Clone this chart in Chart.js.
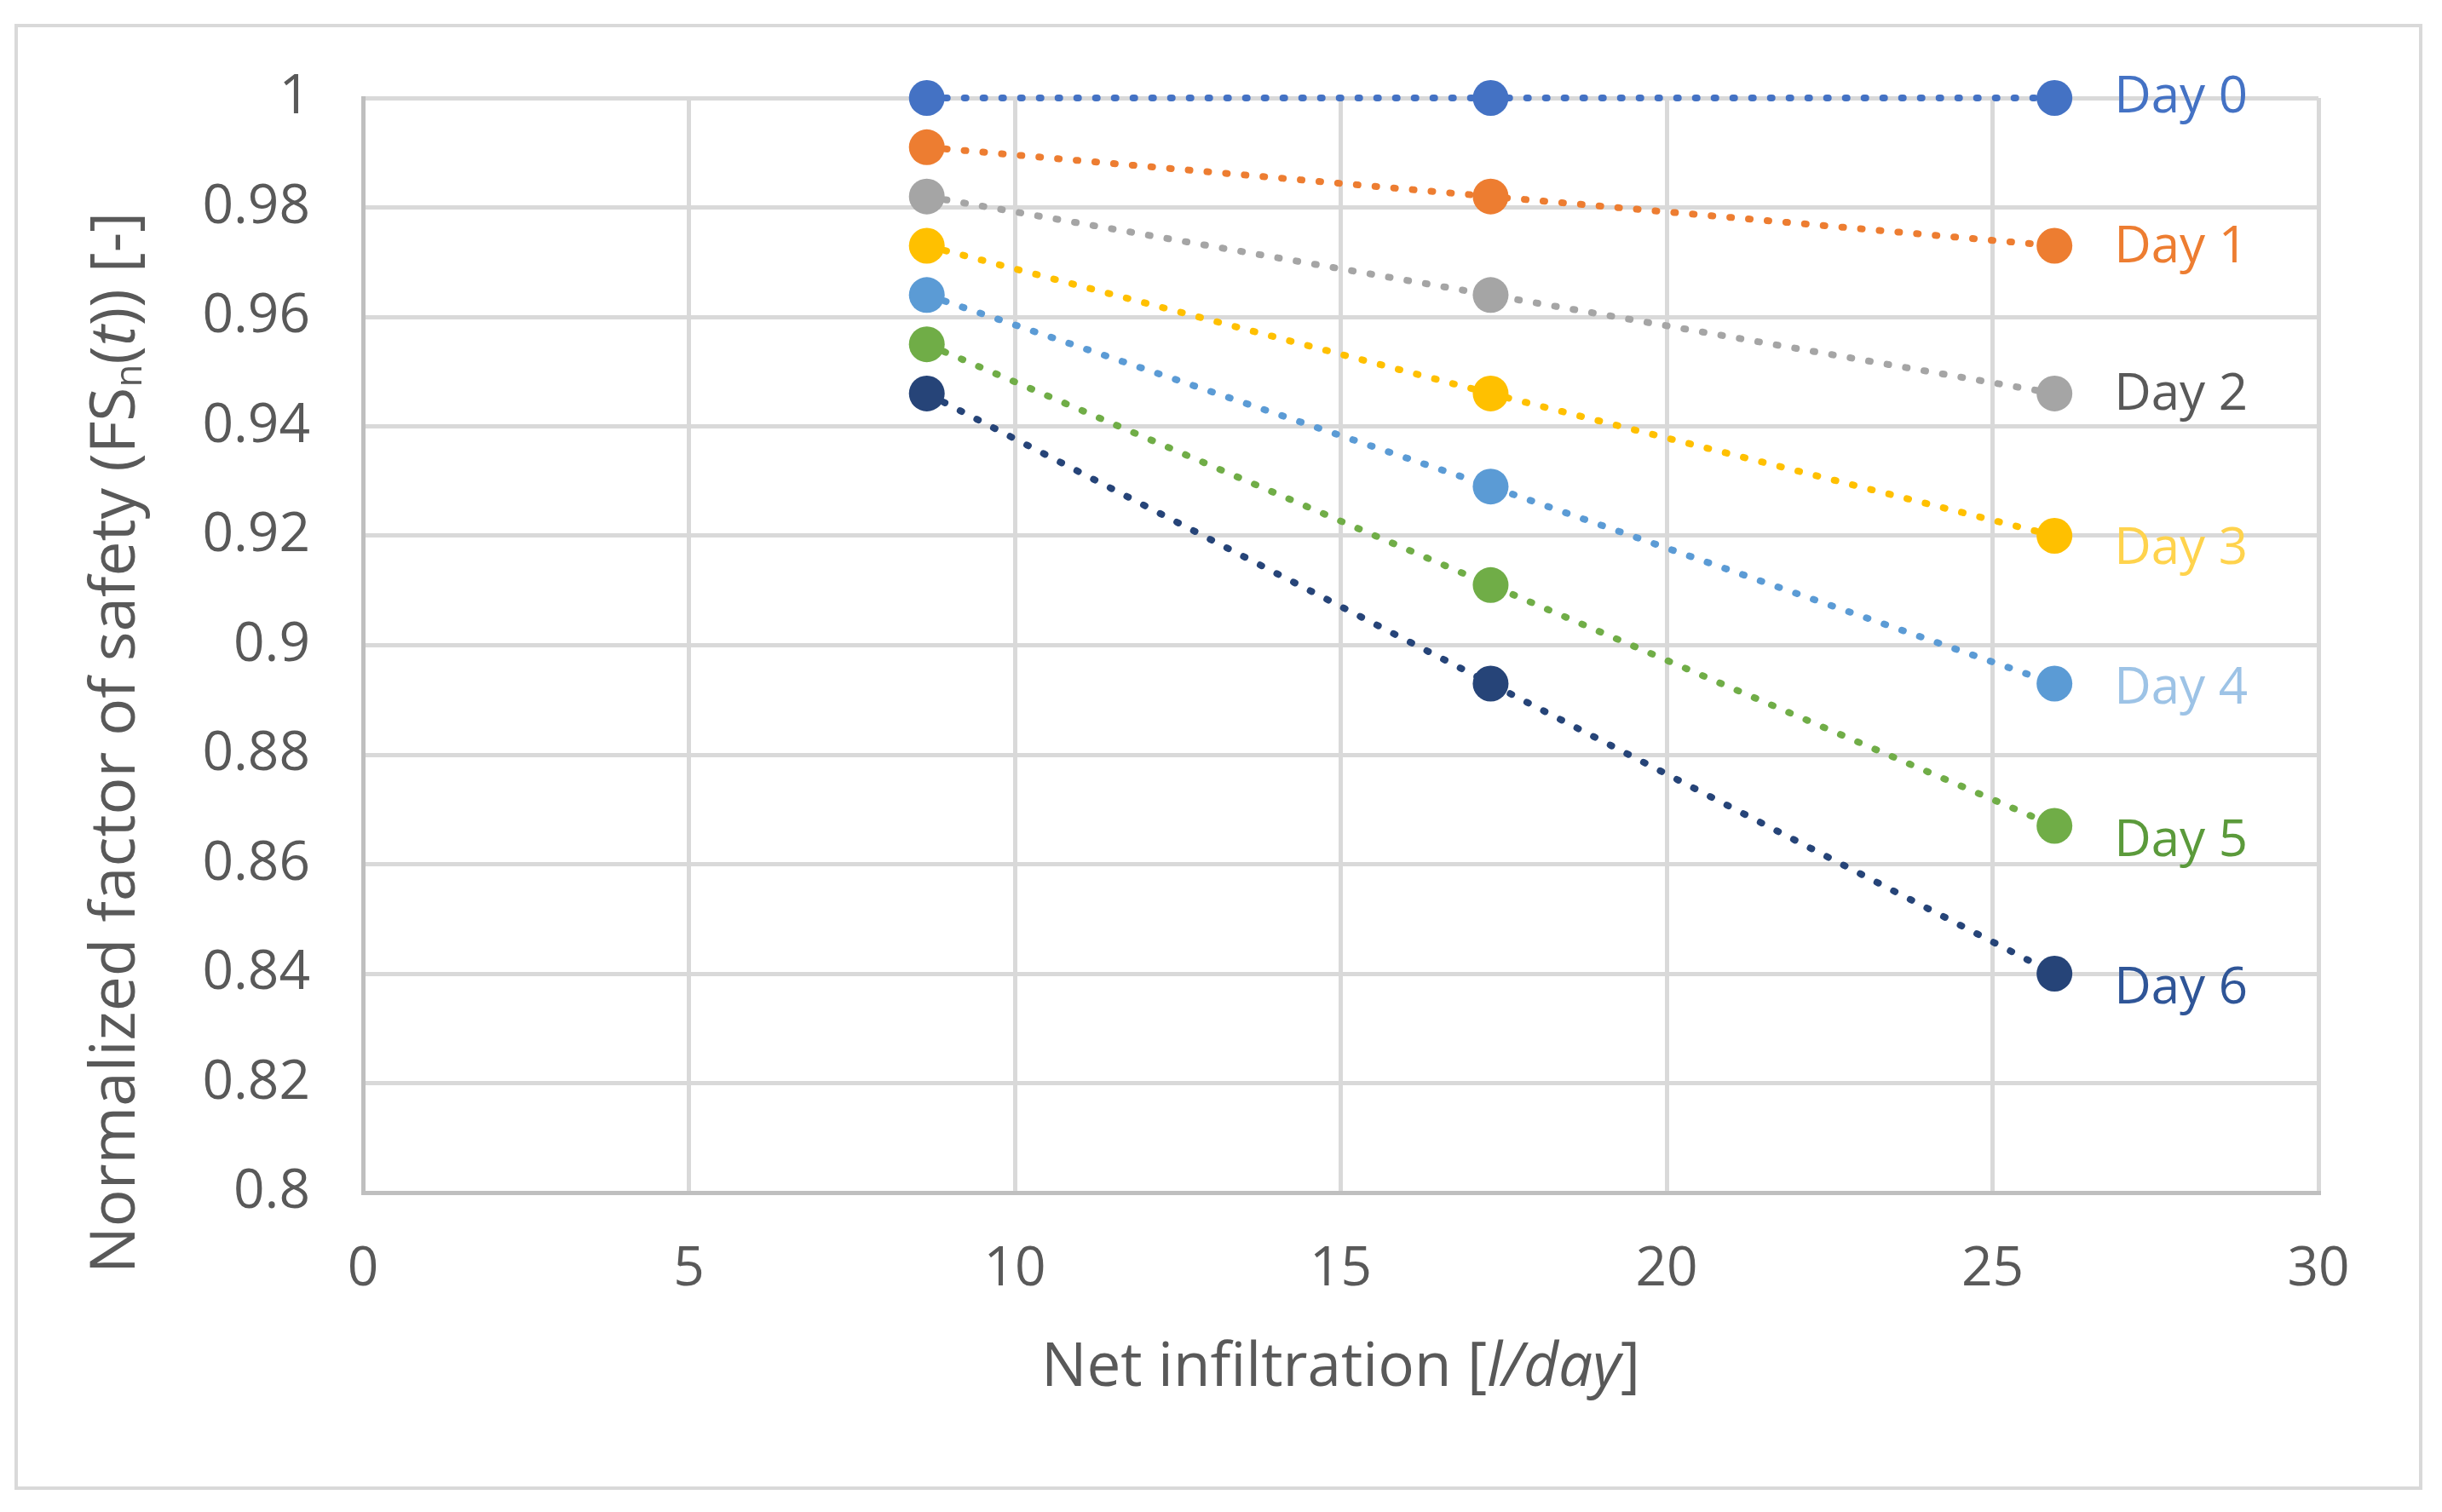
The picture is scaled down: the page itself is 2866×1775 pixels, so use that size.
<!DOCTYPE html>
<html>
<head>
<meta charset="utf-8">
<script src="https://cdn.jsdelivr.net/npm/chart.js@4"></script>
<style>
  html, body { margin: 0; padding: 0; background: #fff; }
  #wrap { width: 2866px; height: 1775px; position: relative; }
</style>
</head>
<body>
<div id="wrap"><canvas id="fsChart"></canvas></div>
<script>
// net infiltration [l/day]
const infiltration = [8.65, 17.3, 25.95];

const dayLabels = ['Day 0', 'Day 1', 'Day 2', 'Day 3', 'Day 4', 'Day 5', 'Day 6'];
const day0 = [1.000, 1.000, 1.000];
const day1 = [0.991, 0.982, 0.973];
const day2 = [0.982, 0.964, 0.946];
const day3 = [0.973, 0.946, 0.920];
const day4 = [0.964, 0.929, 0.893];
const day5 = [0.955, 0.911, 0.867];
const day6 = [0.946, 0.893, 0.840];
const seriesValues = [day0, day1, day2, day3, day4, day5, day6];

const xTicks = [0, 5, 10, 15, 20, 25, 30];
const yTicks = [0.8, 0.82, 0.84, 0.86, 0.88, 0.9, 0.92, 0.94, 0.96, 0.98, 1];

const pointColors = ['#4472C4', '#ED7D31', '#A5A5A5', '#FFC000', '#5B9BD5', '#70AD47', '#264478'];
const labelColors = ['#4472C4', '#ED7D31', '#595959', '#FFD34D', '#9DC3E6', '#5B9A3B', '#2F5597'];
const labelShiftY = [0, 2, 2, 16, 6, 18, 18];

const FONT = '"Open Sans", "Noto Sans", sans-serif';
const TEXT = '#595959';

// white page + light grey frame round the chart
const framePlugin = {
    id: 'frame',
    beforeDraw(chart) {
        const c = chart.ctx;
        c.save();
        c.fillStyle = '#fff';
        c.fillRect(0, 0, chart.width, chart.height);
        c.strokeStyle = '#D9D9D9';
        c.lineWidth = 4;
        c.strokeRect(19, 30, 2822, 1717);
        c.restore();
    }
};

// draws a run of text parts (normal / italic / subscript) centred at 0,0
function drawParts(c, parts, size) {
    const fontFor = p => (p.italic ? 'italic ' : '') + (p.sub ? size * 0.6 : size) + 'px ' + FONT;
    let total = 0;
    parts.forEach(p => { c.font = fontFor(p); p.w = c.measureText(p.t).width; total += p.w; });
    let x = -total / 2;
    c.textBaseline = 'middle';
    c.textAlign = 'left';
    parts.forEach(p => {
        c.font = fontFor(p);
        c.fillText(p.t, x, p.sub ? size * 0.22 : 0);
        x += p.w;
    });
}

const axisTitlePlugin = {
    id: 'axisTitles',
    afterDraw(chart) {
        const c = chart.ctx;
        const area = chart.chartArea;
        c.save();
        c.fillStyle = TEXT;
        c.translate((area.left + area.right) / 2, 1607);
        drawParts(c, [{t: 'Net infiltration ['}, {t: 'l/day', italic: true}, {t: ']'}], 71);
        c.restore();

        c.save();
        c.fillStyle = TEXT;
        c.translate(137, 872);
        c.rotate(-Math.PI / 2);
        drawParts(c, [
            {t: 'Normalized factor of safety (FS'},
            {t: 'n', sub: true},
            {t: '('},
            {t: 't', italic: true},
            {t: ')) [-]'}
        ], 73);
        c.restore();
    }
};

// "Day n" labels to the right of each last point
const dayLabelPlugin = {
    id: 'dayLabels',
    afterDatasetsDraw(chart) {
        const c = chart.ctx;
        c.save();
        c.font = '60px ' + FONT;
        c.textAlign = 'left';
        c.textBaseline = 'middle';
        chart.data.datasets.forEach((ds, i) => {
            const pts = chart.getDatasetMeta(i).data;
            const last = pts[pts.length - 1];
            c.fillStyle = labelColors[i];
            c.fillText(ds.label, last.x + 70, last.y + labelShiftY[i]);
        });
        c.restore();
    }
};

const datasets = seriesValues.map((vals, i) => ({
    label: dayLabels[i],
    data: infiltration.map((x, j) => ({x: x, y: vals[j]})),
    showLine: true,
    clip: false,
    borderColor: pointColors[i],
    backgroundColor: pointColors[i],
    borderWidth: 8,
    borderDash: [2, 20],
    borderCapStyle: 'round',
    pointRadius: 21,
    pointHoverRadius: 21,
    pointBorderWidth: 0,
    pointBackgroundColor: pointColors[i]
}));

new Chart(document.getElementById('fsChart'), {
    type: 'scatter',
    data: { datasets: datasets },
    options: {
        responsive: true,
        maintainAspectRatio: false,
        animation: false,
        layout: {
            padding: { left: 0, top: 115, right: 145, bottom: 0 }
        },
        scales: {
            x: {
                type: 'linear',
                min: 0,
                max: 30,
                afterBuildTicks: scale => { scale.ticks = xTicks.map(v => ({value: v})); },
                afterFit: scale => { scale.height = 375; },
                ticks: {
                    color: TEXT,
                    font: { family: FONT, size: 64 },
                    padding: 52,
                    maxRotation: 0
                },
                grid: { color: '#D9D9D9', lineWidth: 5, drawTicks: false },
                border: { color: '#BFBFBF', width: 5 }
            },
            y: {
                type: 'linear',
                min: 0.8,
                max: 1,
                afterBuildTicks: scale => { scale.ticks = yTicks.map(v => ({value: v})); },
                afterFit: scale => { scale.width = 426; },
                ticks: {
                    color: TEXT,
                    font: { family: FONT, size: 64 },
                    padding: 62,
                    callback: v => String(Number(v.toFixed(2)))
                },
                grid: { color: '#D9D9D9', lineWidth: 5, drawTicks: false },
                border: { color: '#BFBFBF', width: 5 }
            }
        },
        plugins: {
            legend: { display: false },
            tooltip: { enabled: false }
        }
    },
    plugins: [framePlugin, axisTitlePlugin, dayLabelPlugin]
});
</script>
</body>
</html>
